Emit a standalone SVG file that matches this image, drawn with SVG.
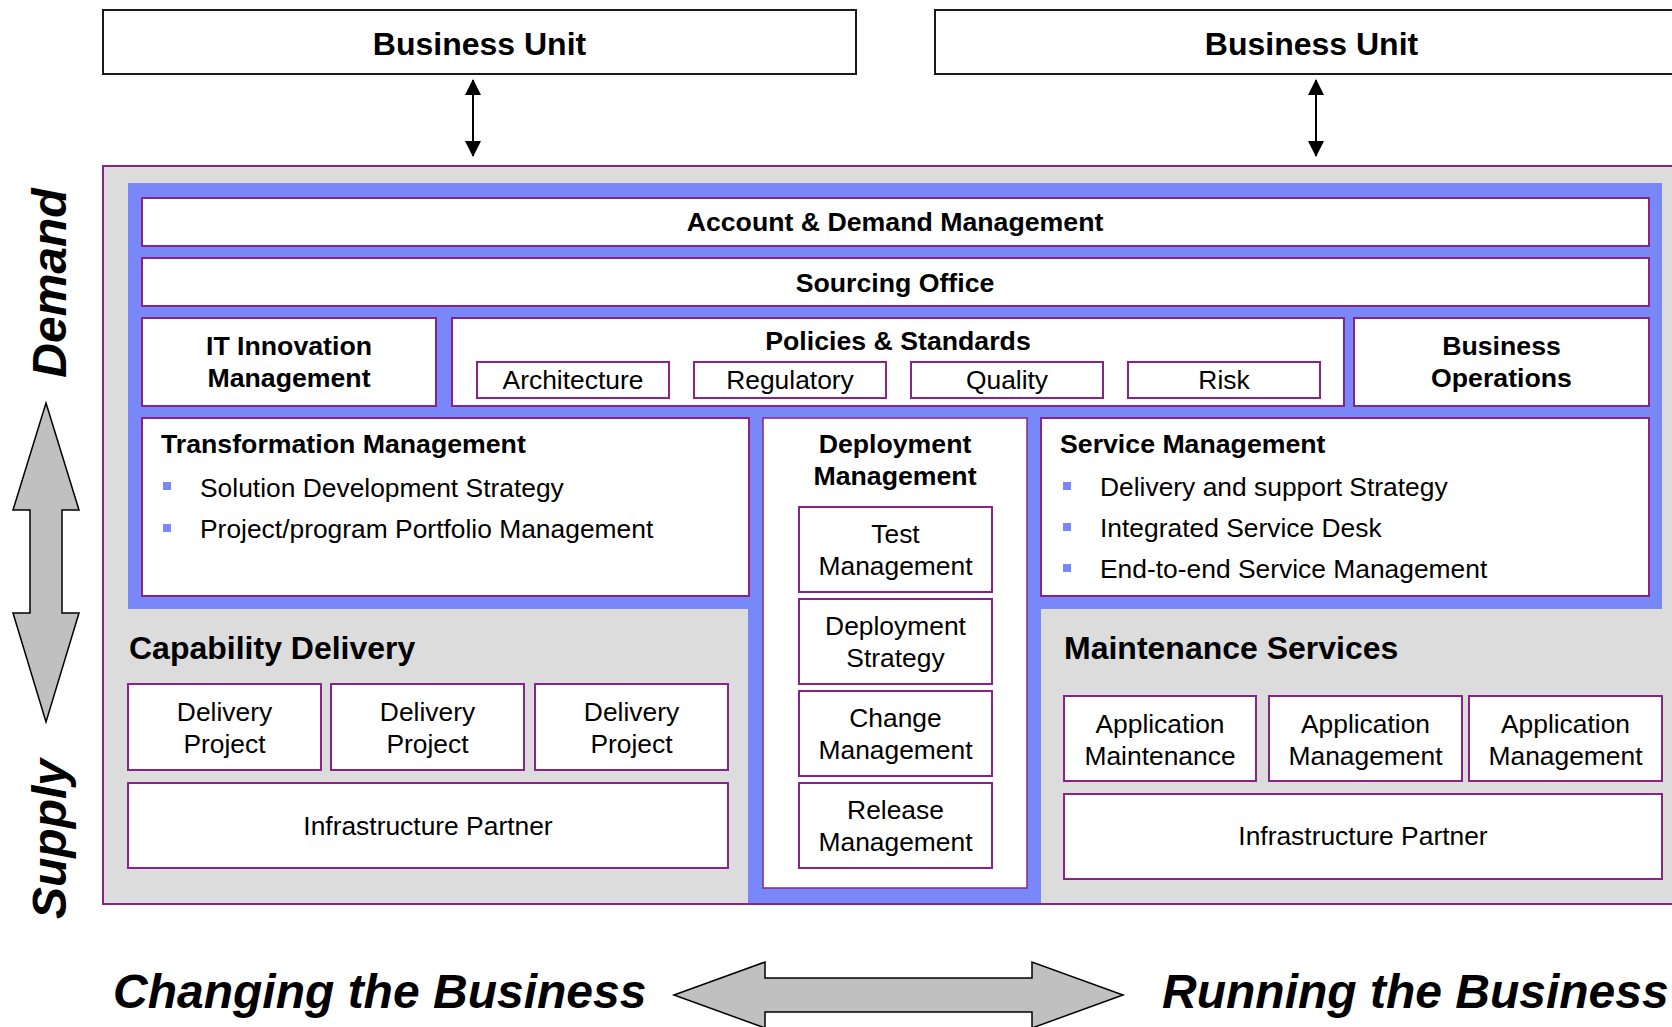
<svg xmlns="http://www.w3.org/2000/svg" width="1672" height="1027" viewBox="0 0 1672 1027">
<defs>
<style>
.bu{fill:#fff;stroke:#1a1a1a;stroke-width:2}
.bx{fill:#fff;stroke:#8a2387;stroke-width:2}
.t{font-family:"Liberation Sans",Arial,sans-serif;font-size:26.4px;fill:#000}
.b{font-weight:bold;font-size:26.7px}
.c{text-anchor:middle}
.h32{font-size:32px;font-weight:bold}
.big{font-family:"Liberation Sans",Arial,sans-serif;font-size:48px;font-weight:bold;font-style:italic;fill:#000}
.bul{fill:#7888f8}
.gar{fill:#c0c0c0;stroke:#000;stroke-width:1.5}
</style>
<marker id="ah" viewBox="0 0 16 16" refX="15" refY="8" markerWidth="16" markerHeight="16" markerUnits="userSpaceOnUse" orient="auto-start-reverse">
<path d="M0,0 L16,8 L0,16 Z" fill="#000"/>
</marker>
</defs>

<g id="bu1"><rect class="bu" x="103" y="10" width="753" height="64"/><text class="t b c" x="479.5" y="55" style="font-size:32px">Business Unit</text></g>
<g id="bu2"><rect class="bu" x="935" y="10" width="753" height="64"/><text class="t b c" x="1311.5" y="55" style="font-size:32px">Business Unit</text></g>

<g id="connectors">
<line x1="473" y1="80" x2="473" y2="156" stroke="#000" stroke-width="2" marker-start="url(#ah)" marker-end="url(#ah)"/>
<line x1="1316" y1="80" x2="1316" y2="156" stroke="#000" stroke-width="2" marker-start="url(#ah)" marker-end="url(#ah)"/>
</g>

<g id="panel">
<rect x="103" y="166" width="1590" height="738" fill="#dcdcdc" stroke="#8a2387" stroke-width="2"/>
<path d="M128,183 H1662 V609 H1041 V903 H748 V609 H128 Z" fill="#7888f8"/>
</g>

<g id="account"><rect class="bx" x="142" y="198" width="1507" height="48"/><text class="t b c" x="895" y="231">Account &amp; Demand Management</text></g>
<g id="sourcing"><rect class="bx" x="142" y="258" width="1507" height="48"/><text class="t b c" x="895" y="292">Sourcing Office</text></g>

<g id="itinnovation"><rect class="bx" x="142" y="318" width="294" height="88"/><text class="t b c" x="289" y="355">IT Innovation</text><text class="t b c" x="289" y="387">Management</text></g>

<g id="policies"><rect class="bx" x="452" y="318" width="892" height="88"/><text class="t b c" x="898" y="350">Policies &amp; Standards</text>
<g id="architecture"><rect class="bx" x="477" y="362" width="192" height="36"/><text class="t c" x="573" y="389">Architecture</text></g>
<g id="regulatory"><rect class="bx" x="694" y="362" width="192" height="36"/><text class="t c" x="790" y="389">Regulatory</text></g>
<g id="quality"><rect class="bx" x="911" y="362" width="192" height="36"/><text class="t c" x="1007" y="389">Quality</text></g>
<g id="risk"><rect class="bx" x="1128" y="362" width="192" height="36"/><text class="t c" x="1224" y="389">Risk</text></g>
</g>

<g id="businessops"><rect class="bx" x="1354" y="318" width="295" height="88"/><text class="t b c" x="1501.5" y="355">Business</text><text class="t b c" x="1501.5" y="387">Operations</text></g>

<g id="transformation"><rect class="bx" x="142" y="418" width="607" height="178"/>
<text class="t b" x="161" y="453">Transformation Management</text>
<rect class="bul" x="163" y="482" width="8" height="8"/><text class="t" x="200" y="497">Solution Development Strategy</text>
<rect class="bul" x="163" y="524" width="8" height="8"/><text class="t" x="200" y="538">Project/program Portfolio Management</text>
</g>

<g id="deployment"><rect x="763" y="418" width="264" height="470" fill="#fff" stroke="#8a2387" stroke-width="1.5"/>
<text class="t b c" x="895" y="453">Deployment</text><text class="t b c" x="895" y="485">Management</text></g>
<g id="test"><rect class="bx" x="799" y="507" width="193" height="85"/><text class="t c" x="895.5" y="543">Test</text><text class="t c" x="895.5" y="575">Management</text></g>
<g id="deploystrategy"><rect class="bx" x="799" y="599" width="193" height="85"/><text class="t c" x="895.5" y="635">Deployment</text><text class="t c" x="895.5" y="667">Strategy</text></g>
<g id="change"><rect class="bx" x="799" y="691" width="193" height="85"/><text class="t c" x="895.5" y="727">Change</text><text class="t c" x="895.5" y="759">Management</text></g>
<g id="release"><rect class="bx" x="799" y="783" width="193" height="85"/><text class="t c" x="895.5" y="819">Release</text><text class="t c" x="895.5" y="851">Management</text></g>

<g id="service"><rect class="bx" x="1041" y="418" width="608" height="178"/>
<text class="t b" x="1060" y="453">Service Management</text>
<rect class="bul" x="1063" y="482" width="8" height="8"/><text class="t" x="1100" y="496">Delivery and support Strategy</text>
<rect class="bul" x="1063" y="523" width="8" height="8"/><text class="t" x="1100" y="537">Integrated Service Desk</text>
<rect class="bul" x="1063" y="564" width="8" height="8"/><text class="t" x="1100" y="578">End-to-end Service Management</text>
</g>

<g id="capability"><text class="t h32" x="129" y="659">Capability Delivery</text></g>
<g id="dp1"><rect class="bx" x="128" y="684" width="193" height="86"/><text class="t c" x="224.5" y="721">Delivery</text><text class="t c" x="224.5" y="753">Project</text></g>
<g id="dp2"><rect class="bx" x="331" y="684" width="193" height="86"/><text class="t c" x="427.5" y="721">Delivery</text><text class="t c" x="427.5" y="753">Project</text></g>
<g id="dp3"><rect class="bx" x="535" y="684" width="193" height="86"/><text class="t c" x="631.5" y="721">Delivery</text><text class="t c" x="631.5" y="753">Project</text></g>
<g id="infra1"><rect class="bx" x="128" y="783" width="600" height="85"/><text class="t c" x="428" y="835">Infrastructure Partner</text></g>

<g id="maintenance"><text class="t h32" x="1064" y="659">Maintenance Services</text></g>
<g id="appmaint"><rect class="bx" x="1064" y="696" width="192" height="85"/><text class="t c" x="1160" y="733">Application</text><text class="t c" x="1160" y="765">Maintenance</text></g>
<g id="appmgmt1"><rect class="bx" x="1269" y="696" width="193" height="85"/><text class="t c" x="1365.5" y="733">Application</text><text class="t c" x="1365.5" y="765">Management</text></g>
<g id="appmgmt2"><rect class="bx" x="1469" y="696" width="193" height="85"/><text class="t c" x="1565.5" y="733">Application</text><text class="t c" x="1565.5" y="765">Management</text></g>
<g id="infra2"><rect class="bx" x="1064" y="794" width="598" height="85"/><text class="t c" x="1363" y="845">Infrastructure Partner</text></g>

<g id="demandsupply">
<text class="big" text-anchor="middle" transform="translate(66,283) rotate(-90)">Demand</text>
<polygon class="gar" points="46,403 79,510 62,510 62,613 79,613 46,722 13,613 30,613 30,510 13,510"/>
<text class="big" text-anchor="middle" transform="translate(66,839) rotate(-90)">Supply</text>
</g>

<g id="changerun">
<text class="big" x="113" y="1008">Changing the Business</text>
<polygon class="gar" points="674,995 765,962 765,978 1032,978 1032,962 1123,995 1032,1028 1032,1012 765,1012 765,1028"/>
<text class="big" x="1162" y="1008">Running the Business</text>
</g>
</svg>
